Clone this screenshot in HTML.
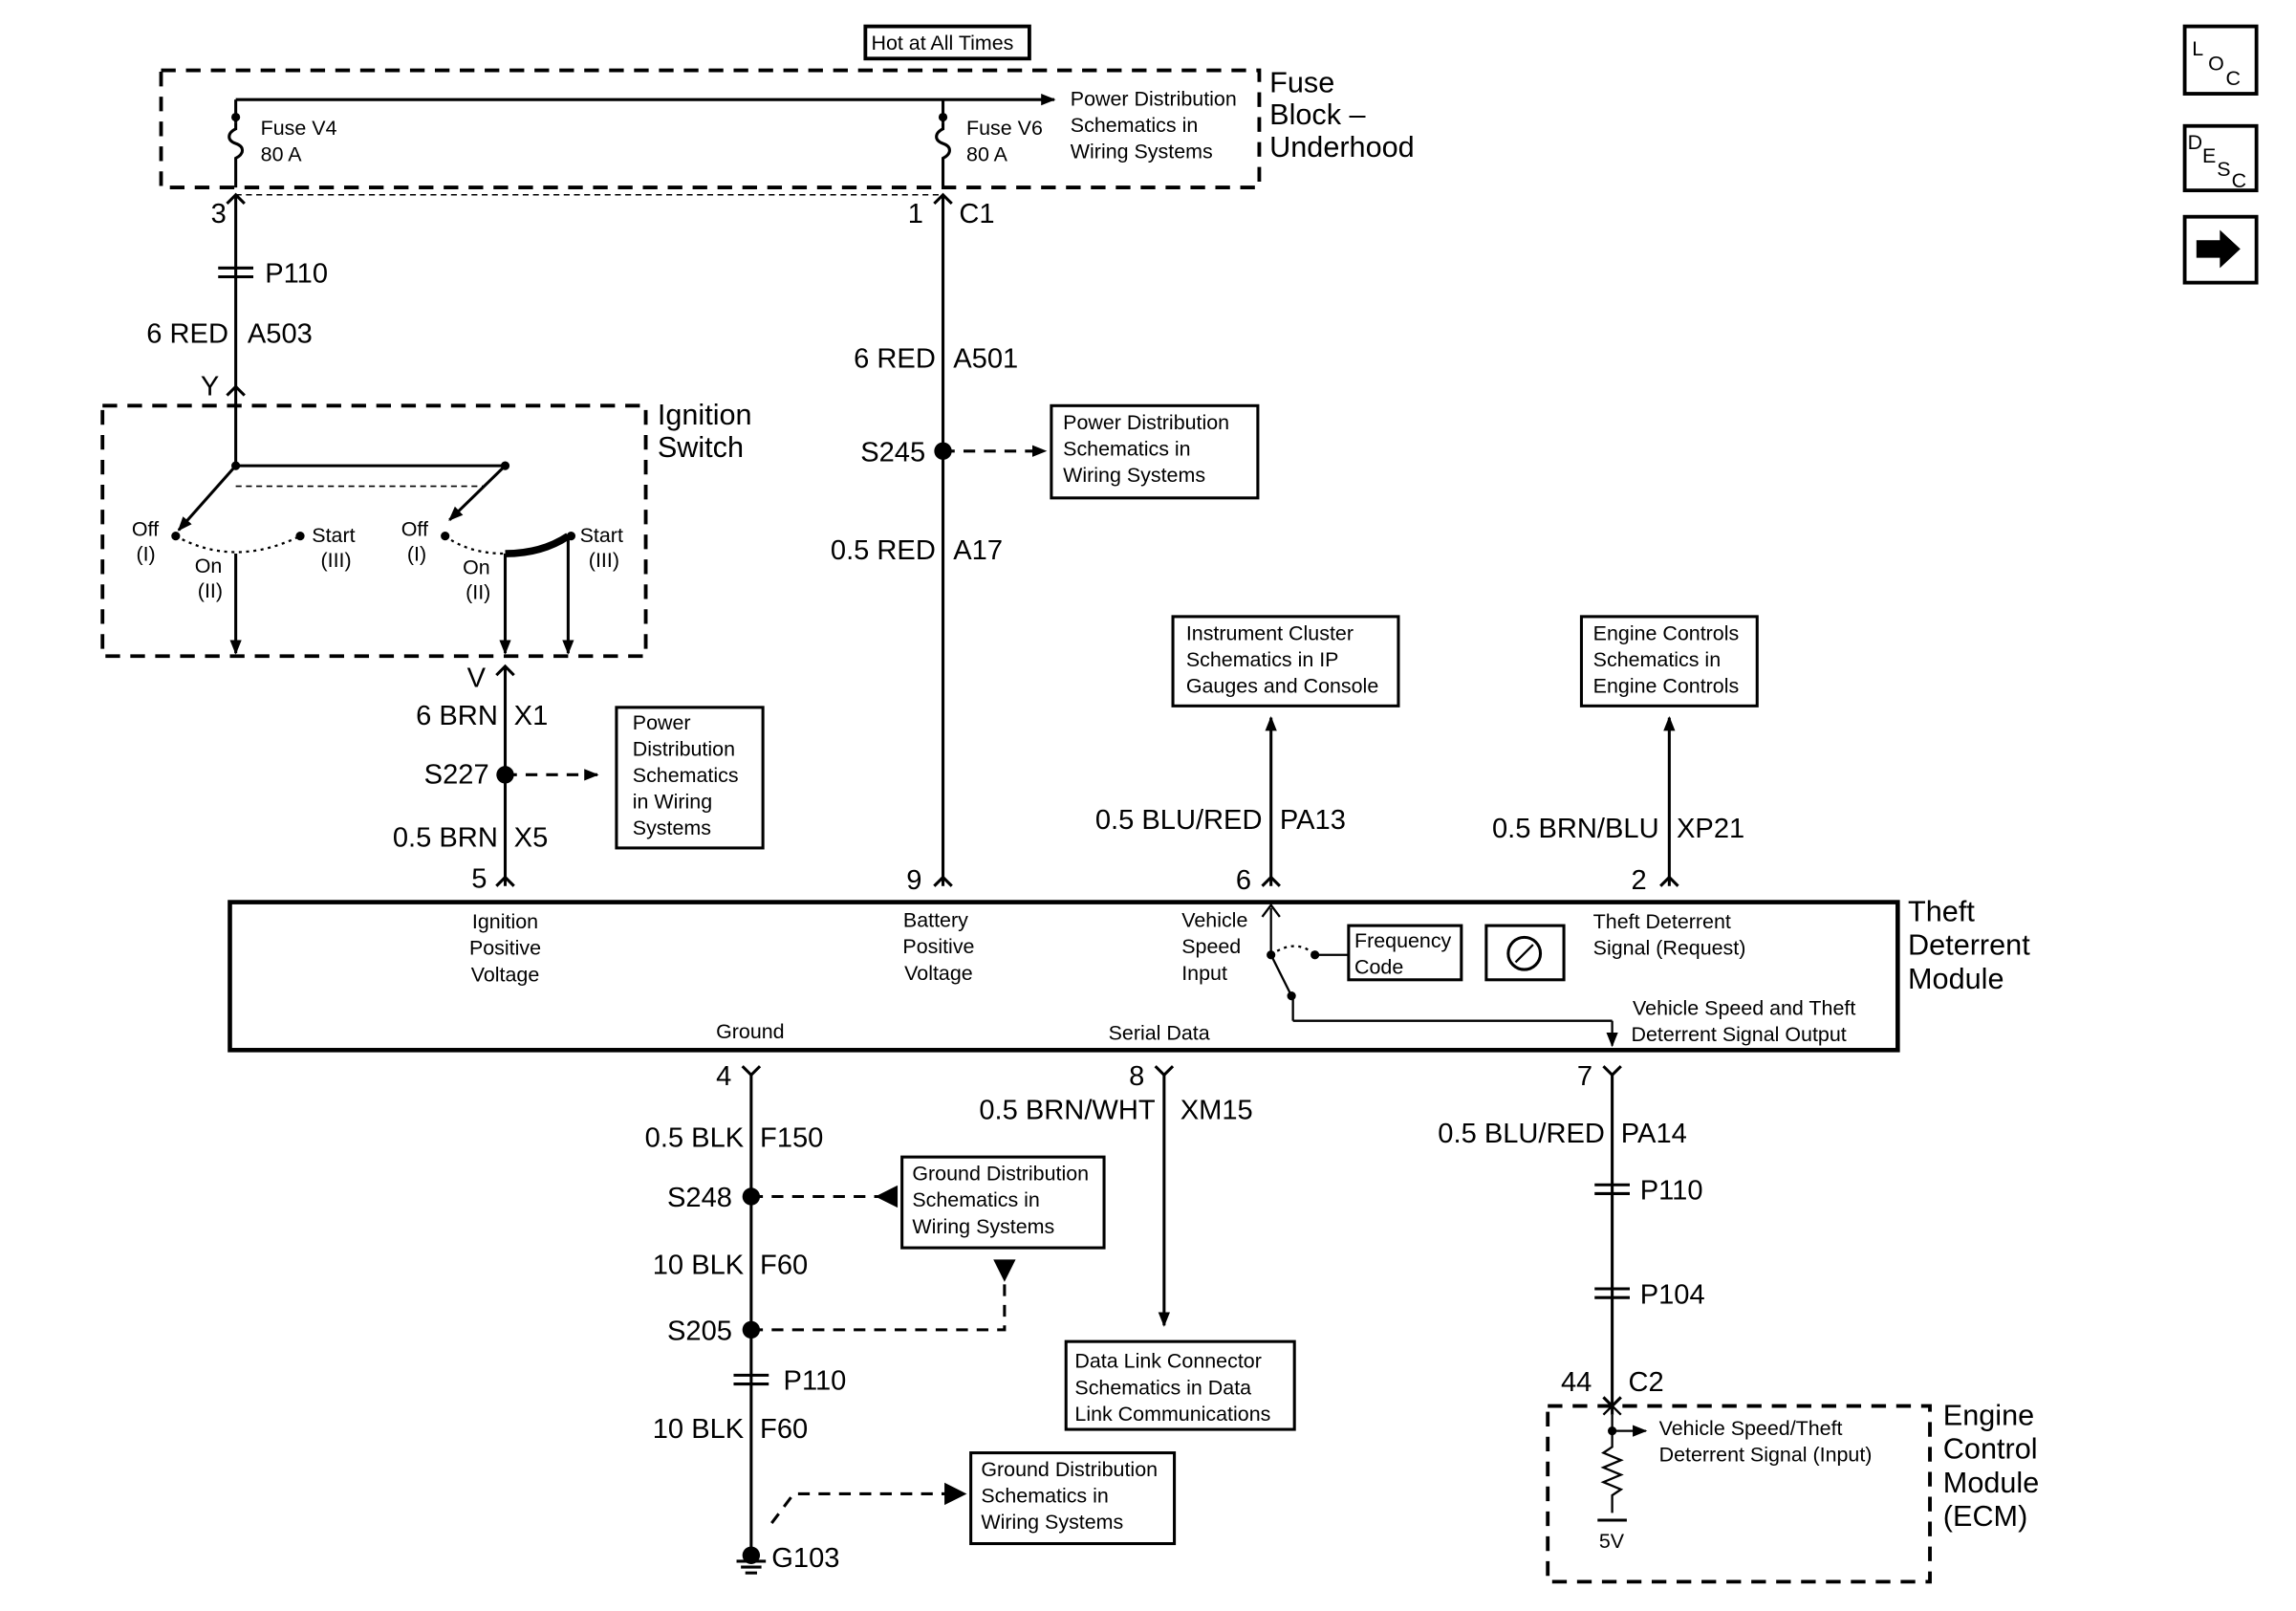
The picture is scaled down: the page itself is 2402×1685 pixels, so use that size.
<!DOCTYPE html>
<html><head><meta charset="utf-8"><style>
html,body{margin:0;padding:0;background:#fff;}
svg{display:block;}
text{font-family:"Liberation Sans",Arial,sans-serif;fill:#000;}
.w{font-size:19px;}
.s{font-size:14px;}
.l{font-size:20px;}
</style></head><body>
<svg width="2402" height="1685" viewBox="0 0 1568 1100" preserveAspectRatio="none" xmlns="http://www.w3.org/2000/svg">
<defs>
<marker id="a" markerWidth="10" markerHeight="10" refX="9" refY="5" orient="auto" markerUnits="userSpaceOnUse"><path d="M0,1 L10,5 L0,9 z" fill="#000"/></marker>
</defs>
<g stroke="#000" fill="none" stroke-width="2">
<rect x="591" y="18" width="112" height="22" stroke-width="2.5"/>
<rect x="110" y="48" width="750" height="80" stroke-dasharray="10,7" stroke-width="2.5"/>
<line x1="161" y1="68" x2="720" y2="68" marker-end="url(#a)"/>
<line x1="161" y1="68" x2="161" y2="84"/>
<line x1="644" y1="68" x2="644" y2="84"/>
<path d="M161,84 v4 c-6,3 -6,8 0,10 c6,2 6,7 0,10 v20"/>
<path d="M644,84 v4 c-6,3 -6,8 0,10 c6,2 6,7 0,10 v20"/>
<line x1="161" y1="133" x2="644" y2="133" stroke-dasharray="4,3" stroke-width="1"/>
<path d="M155,139 L161,133 L167,139"/>
<line x1="161" y1="133" x2="161" y2="318"/>
<path d="M155,270 L161,264 L167,270"/>
<line x1="149" y1="183" x2="173" y2="183"/><line x1="149" y1="189" x2="173" y2="189"/>
<rect x="70" y="277" width="371" height="171" stroke-dasharray="10,7" stroke-width="2.5"/>
<line x1="161" y1="318" x2="345" y2="318"/>
<line x1="161" y1="332" x2="330" y2="332" stroke-dasharray="4,3" stroke-width="1"/>
<line x1="161" y1="318" x2="122" y2="362" marker-end="url(#a)"/>
<line x1="345" y1="318" x2="307" y2="355" marker-end="url(#a)"/>
<path d="M120,366 Q160,388 205,366" stroke-dasharray="2,3" stroke-width="1.5"/>
<path d="M304,366 Q320,378 345,378" stroke-dasharray="2,3" stroke-width="1.5"/>
<path d="M345,378 Q370,378 388,366" stroke-width="5"/>
<line x1="161" y1="378" x2="161" y2="446" marker-end="url(#a)"/>
<line x1="345" y1="378" x2="345" y2="446" marker-end="url(#a)"/>
<line x1="388" y1="368" x2="388" y2="446" marker-end="url(#a)"/>
<path d="M339,461 L345,455 L351,461"/>
<line x1="345" y1="455" x2="345" y2="605"/>
<path d="M339,605 L345,599 L351,605"/>
<line x1="345" y1="529" x2="408" y2="529" stroke-dasharray="8,6" marker-end="url(#a)"/>
<rect x="421" y="483" width="100" height="96"/>
<path d="M638,139 L644,133 L650,139"/>
<line x1="644" y1="133" x2="644" y2="605"/>
<path d="M638,605 L644,599 L650,605"/>
<line x1="644" y1="308" x2="714" y2="308" stroke-dasharray="8,6" marker-end="url(#a)"/>
<rect x="718" y="277" width="141" height="63"/>
<rect x="157" y="616" width="1139" height="101" stroke-width="3"/>
<line x1="868" y1="605" x2="868" y2="490" marker-end="url(#a)"/>
<path d="M862,605 L868,599 L874,605"/>
<rect x="801" y="421" width="154" height="61"/>
<line x1="1140" y1="605" x2="1140" y2="490" marker-end="url(#a)"/>
<path d="M1134,605 L1140,599 L1146,605"/>
<rect x="1080" y="421" width="120" height="61"/>
<line x1="868" y1="620" x2="868" y2="652" stroke-width="1.5"/>
<path d="M862,626 L868,618 L874,626" stroke-width="1.5"/>
<path d="M868,652 Q885,640 898,652" stroke-dasharray="2,3" stroke-width="1.5"/>
<line x1="868" y1="652" x2="882" y2="680" stroke-width="1.5"/>
<line x1="898" y1="652" x2="921" y2="652" stroke-width="1.5"/>
<line x1="883" y1="680" x2="883" y2="697" stroke-width="1.5"/>
<line x1="883" y1="697" x2="1101" y2="697" stroke-width="1.5"/>
<line x1="1101" y1="697" x2="1101" y2="714" stroke-width="1.5" marker-end="url(#a)"/>
<rect x="921" y="632" width="77" height="37"/>
<rect x="1015" y="632" width="53" height="37"/>
<circle cx="1041" cy="651" r="11"/>
<line x1="1035" y1="657" x2="1047" y2="645" stroke-width="1.5"/>
<path d="M507,728 L513,734 L519,728"/>
<line x1="513" y1="734" x2="513" y2="1060"/>
<line x1="501" y1="939" x2="525" y2="939"/><line x1="501" y1="945" x2="525" y2="945"/>
<line x1="513" y1="817" x2="600" y2="817" stroke-dasharray="8,6"/>
<path d="M612,811 L600,817 L612,823 z" fill="#000"/>
<rect x="616" y="790" width="138" height="62"/>
<polyline points="513,908 686,908 686,872" stroke-dasharray="8,6"/>
<path d="M680,861 L692,861 L686,873 z" fill="#000"/>
<polyline points="527,1040 542,1020 652,1020" stroke-dasharray="8,6"/>
<path d="M646,1014 L658,1020 L646,1026 z" fill="#000"/>
<rect x="663" y="992" width="139" height="62"/>
<line x1="503" y1="1066" x2="523" y2="1066"/><line x1="506" y1="1070" x2="520" y2="1070"/><line x1="509" y1="1074" x2="517" y2="1074"/>
<path d="M789,728 L795,734 L801,728"/>
<line x1="795" y1="734" x2="795" y2="905" marker-end="url(#a)"/>
<rect x="728" y="916" width="156" height="60"/>
<path d="M1095,728 L1101,734 L1107,728"/>
<line x1="1101" y1="734" x2="1101" y2="966"/>
<line x1="1089" y1="809" x2="1113" y2="809"/><line x1="1089" y1="815" x2="1113" y2="815"/>
<line x1="1089" y1="880" x2="1113" y2="880"/><line x1="1089" y1="886" x2="1113" y2="886"/>
<path d="M1095,954 L1101,960 L1107,954"/>
<rect x="1057" y="960" width="261" height="120" stroke-dasharray="10,7" stroke-width="2.5"/>
<path d="M1095,966 L1101,960 L1107,966" stroke-width="1.5"/>
<line x1="1101" y1="977" x2="1124" y2="977" stroke-width="1.5" marker-end="url(#a)"/>
<path d="M1101,966 v22 l-6,4 l12,5 l-12,5 l12,5 l-12,5 l12,5 l-6,4 v12" stroke-width="1.5"/>
<line x1="1091" y1="1038" x2="1111" y2="1038"/>
<rect x="1492" y="18" width="49" height="46" stroke-width="2.5"/>
<rect x="1492" y="86" width="49" height="44" stroke-width="2.5"/>
<rect x="1492" y="148" width="49" height="45" stroke-width="2.5"/>
</g>
<g fill="#000">
<circle cx="161" cy="80" r="3"/><circle cx="644" cy="80" r="3"/>
<circle cx="161" cy="318" r="3"/><circle cx="345" cy="318" r="3"/>
<circle cx="120" cy="366" r="3"/><circle cx="205" cy="366" r="3"/><circle cx="304" cy="366" r="3"/><circle cx="390" cy="366" r="3"/>
<circle cx="345" cy="529" r="6"/><circle cx="644" cy="308" r="6"/>
<circle cx="513" cy="817" r="6"/><circle cx="513" cy="908" r="6"/><circle cx="513" cy="1062" r="6"/>
<circle cx="868" cy="652" r="3"/><circle cx="898" cy="652" r="3"/><circle cx="882" cy="680" r="3"/>
<circle cx="1101" cy="977" r="3"/>
<path d="M1500,164 h16 v-7 l14,13 l-14,13 v-7 h-16 z"/>
</g>
<text x="595" y="34" class="s">Hot at All Times</text>
<text x="867" y="63" class="l">Fuse</text><text x="867" y="85" class="l">Block –</text><text x="867" y="107" class="l">Underhood</text>
<text x="178" y="92" class="s">Fuse V4</text><text x="178" y="110" class="s">80 A</text>
<text x="660" y="92" class="s">Fuse V6</text><text x="660" y="110" class="s">80 A</text>
<text x="731" y="72" class="s">Power Distribution</text><text x="731" y="90" class="s">Schematics in</text><text x="731" y="108" class="s">Wiring Systems</text>
<text x="144" y="152" class="w">3</text><text x="620" y="152" class="w">1</text><text x="655" y="152" class="w">C1</text>
<text x="181" y="193" class="w">P110</text>
<text x="156" y="234" class="w" text-anchor="end">6 RED</text><text x="169" y="234" class="w">A503</text>
<text x="137" y="270" class="w">Y</text>
<text x="449" y="290" class="l">Ignition</text><text x="449" y="312" class="l">Switch</text>
<text x="90" y="366" class="s">Off</text><text x="93" y="383" class="s">(I)</text>
<text x="133" y="391" class="s">On</text><text x="135" y="408" class="s">(II)</text>
<text x="213" y="370" class="s">Start</text><text x="219" y="387" class="s">(III)</text>
<text x="274" y="366" class="s">Off</text><text x="278" y="383" class="s">(I)</text>
<text x="316" y="392" class="s">On</text><text x="318" y="409" class="s">(II)</text>
<text x="396" y="370" class="s">Start</text><text x="402" y="387" class="s">(III)</text>
<text x="319" y="469" class="w">V</text>
<text x="340" y="495" class="w" text-anchor="end">6 BRN</text><text x="351" y="495" class="w">X1</text>
<text x="334" y="535" class="w" text-anchor="end">S227</text>
<text x="340" y="578" class="w" text-anchor="end">0.5 BRN</text><text x="351" y="578" class="w">X5</text>
<text x="322" y="606" class="w">5</text>
<text x="432" y="498" class="s">Power</text><text x="432" y="516" class="s">Distribution</text><text x="432" y="534" class="s">Schematics</text><text x="432" y="552" class="s">in Wiring</text><text x="432" y="570" class="s">Systems</text>
<text x="639" y="251" class="w" text-anchor="end">6 RED</text><text x="651" y="251" class="w">A501</text>
<text x="632" y="315" class="w" text-anchor="end">S245</text>
<text x="726" y="293" class="s">Power Distribution</text><text x="726" y="311" class="s">Schematics in</text><text x="726" y="329" class="s">Wiring Systems</text>
<text x="639" y="382" class="w" text-anchor="end">0.5 RED</text><text x="651" y="382" class="w">A17</text>
<text x="619" y="607" class="w">9</text>
<text x="810" y="437" class="s">Instrument Cluster</text><text x="810" y="455" class="s">Schematics in IP</text><text x="810" y="473" class="s">Gauges and Console</text>
<text x="1088" y="437" class="s">Engine Controls</text><text x="1088" y="455" class="s">Schematics in</text><text x="1088" y="473" class="s">Engine Controls</text>
<text x="862" y="566" class="w" text-anchor="end">0.5 BLU/RED</text><text x="874" y="566" class="w">PA13</text>
<text x="1133" y="572" class="w" text-anchor="end">0.5 BRN/BLU</text><text x="1145" y="572" class="w">XP21</text>
<text x="844" y="607" class="w">6</text><text x="1114" y="607" class="w">2</text>
<text x="1303" y="629" class="l">Theft</text><text x="1303" y="652" class="l">Deterrent</text><text x="1303" y="675" class="l">Module</text>
<text x="345" y="634" class="s" text-anchor="middle">Ignition</text><text x="345" y="652" class="s" text-anchor="middle">Positive</text><text x="345" y="670" class="s" text-anchor="middle">Voltage</text>
<text x="639" y="633" class="s" text-anchor="middle">Battery</text><text x="641" y="651" class="s" text-anchor="middle">Positive</text><text x="641" y="669" class="s" text-anchor="middle">Voltage</text>
<text x="807" y="633" class="s">Vehicle</text><text x="807" y="651" class="s">Speed</text><text x="807" y="669" class="s">Input</text>
<text x="925" y="647" class="s">Frequency</text><text x="925" y="665" class="s">Code</text>
<text x="1088" y="634" class="s">Theft Deterrent</text><text x="1088" y="652" class="s">Signal (Request)</text>
<text x="1115" y="693" class="s">Vehicle Speed and Theft</text><text x="1114" y="711" class="s">Deterrent Signal Output</text>
<text x="489" y="709" class="s">Ground</text><text x="757" y="710" class="s">Serial Data</text>
<text x="489" y="741" class="w">4</text><text x="771" y="741" class="w">8</text><text x="1077" y="741" class="w">7</text>
<text x="508" y="783" class="w" text-anchor="end">0.5 BLK</text><text x="519" y="783" class="w">F150</text>
<text x="500" y="824" class="w" text-anchor="end">S248</text>
<text x="508" y="870" class="w" text-anchor="end">10 BLK</text><text x="519" y="870" class="w">F60</text>
<text x="500" y="915" class="w" text-anchor="end">S205</text>
<text x="535" y="949" class="w">P110</text>
<text x="508" y="982" class="w" text-anchor="end">10 BLK</text><text x="519" y="982" class="w">F60</text>
<text x="527" y="1070" class="w">G103</text>
<text x="623" y="806" class="s">Ground Distribution</text><text x="623" y="824" class="s">Schematics in</text><text x="623" y="842" class="s">Wiring Systems</text>
<text x="670" y="1008" class="s">Ground Distribution</text><text x="670" y="1026" class="s">Schematics in</text><text x="670" y="1044" class="s">Wiring Systems</text>
<text x="789" y="764" class="w" text-anchor="end">0.5 BRN/WHT</text><text x="806" y="764" class="w">XM15</text>
<text x="734" y="934" class="s">Data Link Connector</text><text x="734" y="952" class="s">Schematics in Data</text><text x="734" y="970" class="s">Link Communications</text>
<text x="1096" y="780" class="w" text-anchor="end">0.5 BLU/RED</text><text x="1107" y="780" class="w">PA14</text>
<text x="1120" y="819" class="w">P110</text><text x="1120" y="890" class="w">P104</text>
<text x="1066" y="950" class="w">44</text><text x="1112" y="950" class="w">C2</text>
<text x="1133" y="980" class="s">Vehicle Speed/Theft</text><text x="1133" y="998" class="s">Deterrent Signal (Input)</text>
<text x="1092" y="1057" class="s">5V</text>
<text x="1327" y="973" class="l">Engine</text><text x="1327" y="996" class="l">Control</text><text x="1327" y="1019" class="l">Module</text><text x="1327" y="1042" class="l">(ECM)</text>
<text x="1497" y="38" style="font-size:14px">L</text><text x="1508" y="48" style="font-size:14px">O</text><text x="1520" y="58" style="font-size:14px">C</text>
<text x="1494" y="102" style="font-size:14px">D</text><text x="1504" y="111" style="font-size:14px">E</text><text x="1514" y="120" style="font-size:14px">S</text><text x="1524" y="128" style="font-size:14px">C</text>
</svg>
</body></html>
